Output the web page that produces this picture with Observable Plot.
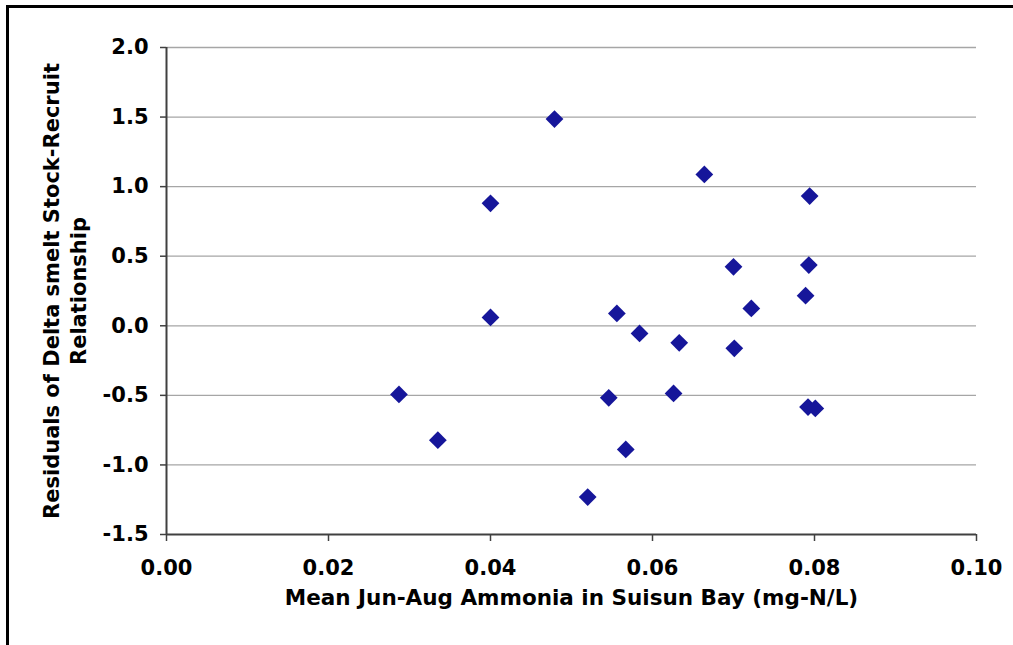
<!DOCTYPE html>
<html><head><meta charset="utf-8">
<script src="https://cdn.jsdelivr.net/npm/d3@7"></script>
<script src="https://cdn.jsdelivr.net/npm/@observablehq/plot@0.6"></script>
<style>
html,body{margin:0;padding:0;background:#fff;}
#wrap{position:relative;width:1013px;height:645px;overflow:hidden;}
#frame{position:absolute;left:6px;top:5px;width:1100px;height:700px;border-left:3px solid #000;border-top:3px solid #000;}
#chart{position:absolute;left:0;top:0;}
</style></head><body>
<div id="wrap"><div id="frame"></div><div id="chart"></div></div>
<script>
const ammonia = [0.0287, 0.0335, 0.0400, 0.0400, 0.0479, 0.0520, 0.0546, 0.0556, 0.0567, 0.0584, 0.0626, 0.0633, 0.0664, 0.0700, 0.0701, 0.0722, 0.0794, 0.0793, 0.0789, 0.0792, 0.0801];
const residuals = [-0.493, -0.822, 0.880, 0.060, 1.486, -1.231, -0.518, 0.089, -0.889, -0.055, -0.486, -0.122, 1.088, 0.424, -0.162, 0.125, 0.932, 0.436, 0.216, -0.584, -0.594];
const xTicks = [0, 0.02, 0.04, 0.06, 0.08, 0.10];
const yTicks = [-1.5, -1.0, -0.5, 0, 0.5, 1.0, 1.5, 2.0];
const xTitle = "Mean Jun-Aug Ammonia in Suisun Bay (mg-N/L)";
const yTitle = "Residuals of Delta smelt Stock-Recruit\nRelationship";

const data = ammonia.map((x, i) => ({x, y: residuals[i]}));
const font = "DejaVu Sans, Verdana, sans-serif";

const chart = Plot.plot({
  width: 1013, height: 645,
  marginLeft: 166, marginRight: 37, marginTop: 47, marginBottom: 111,
  style: {fontFamily: font, fontWeight: "bold", fontSize: "21px", color: "#000", background: "transparent", overflow: "visible"},
  x: {domain: [0, 0.1]},
  y: {domain: [-1.5, 2]},
  marks: [
    Plot.gridY(yTicks.slice(1), {stroke: "#a6a6a6", strokeOpacity: 1, strokeWidth: 1.3}),
    Plot.axisY(yTicks, {tickFormat: d => d.toFixed(1), tickSize: 6, tickPadding: 12, label: null, stroke: "#404040", strokeWidth: 1.5, fill: "#000", fontWeight: "bold", fontSize: 21}),
    Plot.axisX(xTicks, {tickFormat: d => d.toFixed(2), tickSize: 7, tickPadding: 19, label: null, stroke: "#404040", strokeWidth: 1.5, fill: "#000", fontWeight: "bold", fontSize: 21}),
    Plot.ruleX([0], {stroke: "#404040", strokeWidth: 2}),
    Plot.ruleY([-1.5], {stroke: "#404040", strokeWidth: 2}),
    Plot.dot(data, {x: "x", y: "y", symbol: "diamond2", r: 8, fill: "#16169a", stroke: null}),
    Plot.text([xTitle], {text: d => d, frameAnchor: "bottom", textAnchor: "middle", dy: 70, fontSize: 21.5, fontWeight: "bold", fill: "#000"}),
    Plot.text([yTitle], {text: d => d, frameAnchor: "left", textAnchor: "middle", rotate: -90, dx: -102.4, lineHeight: 1.25, fontSize: 21, fontWeight: "bold", fill: "#000"})
  ]
});
document.getElementById("chart").appendChild(chart);
</script>
</body></html>
